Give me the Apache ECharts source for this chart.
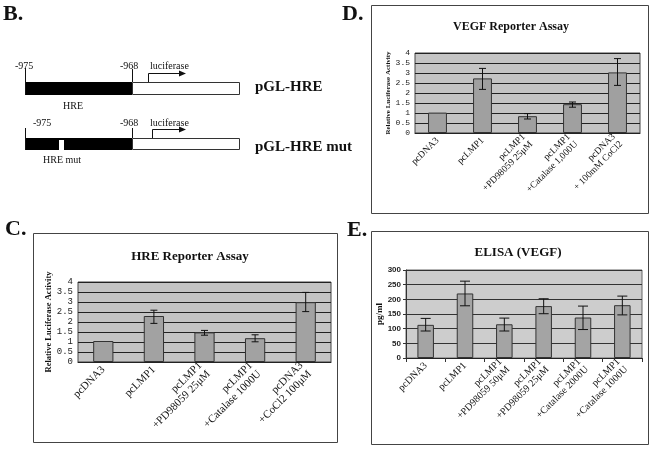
<!DOCTYPE html>
<html><head><meta charset="utf-8">
<script src="https://cdn.jsdelivr.net/npm/echarts@6/dist/echarts.min.js"></script>
<style>html,body{margin:0;padding:0;background:#fff}#c{width:652px;height:450px}</style>
</head><body><div id="c"></div>
<script>
// Panel C: HRE Reporter Assay
const hreCategories = ['pcDNA3', 'pcLMP1', 'pcLMP1\n+PD98059 25μM', 'pcLMP1\n+Catalase 1000U', 'pcDNA3\n+CoCl2 100μM'];
const hreValues = [1.05, 2.3, 1.48, 1.19, 2.99];
const hreErrLow = [null, 1.93, 1.34, 1.01, 2.52];
const hreErrHigh = [null, 2.59, 1.58, 1.36, 3.48];

// Panel D: VEGF Reporter Assay
const vegfCategories = ['pcDNA3', 'pcLMP1', 'pcLMP1\n+PD98059 25μM', 'pcLMP1\n+Catalase 1,000U', 'pcDNA3\n+ 100mM CoCl2'];
const vegfValues = [1.02, 2.73, 0.84, 1.44, 3.03];
const vegfErrLow = [null, 2.18, 0.7, 1.29, 2.38];
const vegfErrHigh = [null, 3.23, 0.97, 1.55, 3.72];

// Panel E: ELISA (VEGF)
const elisaCategories = ['pcDNA3', 'pcLMP1', 'pcLMP1\n+PD98059 50μM', 'pcLMP1\n+PD98059 25μM', 'pcLMP1\n+Catalase 2000U', 'pcLMP1\n+Catalase 1000U'];
const elisaValues = [113, 220, 115, 177, 138, 180];
const elisaErrLow = [92, 178, 92, 151, 97, 147];
const elisaErrHigh = [135, 262, 136, 202, 177, 211];

const reporterTicks = { min: 0, max: 4, interval: 0.5 };
const elisaTicks = { min: 0, max: 300, interval: 50 };

const SERIF = '"Liberation Serif", "DejaVu Serif", serif';
const MONO = '"Liberation Mono", "DejaVu Sans Mono", monospace';
const SANS = '"Liberation Sans", Arial, sans-serif';

function errData(low, high) {
  const out = [];
  for (let i = 0; i < low.length; i++) {
    if (low[i] != null && high[i] != null) out.push([i, low[i], high[i]]);
  }
  return out;
}

function errSeries(idx, low, high, cap) {
  return {
    type: 'custom', xAxisIndex: idx, yAxisIndex: idx, z: 5,
    data: errData(low, high),
    renderItem: function (params, api) {
      const lo = api.coord([api.value(0), api.value(1)]);
      const hi = api.coord([api.value(0), api.value(2)]);
      const st = { stroke: '#111', lineWidth: 1 };
      return {
        type: 'group', children: [
          { type: 'line', shape: { x1: lo[0], y1: lo[1], x2: hi[0], y2: hi[1] }, style: st },
          { type: 'line', shape: { x1: lo[0] - cap, y1: lo[1], x2: lo[0] + cap, y2: lo[1] }, style: st },
          { type: 'line', shape: { x1: hi[0] - cap, y1: hi[1], x2: hi[0] + cap, y2: hi[1] }, style: st }
        ]
      };
    }
  };
}

function xAxisFor(idx, cats, fontSize, showTicks) {
  return {
    type: 'category', gridIndex: idx, data: cats,
    axisLine: { show: true, lineStyle: { color: '#222', width: 1 } },
    axisTick: { show: showTicks, alignWithLabel: false, length: 4, lineStyle: { color: '#333' } },
    axisLabel: {
      rotate: 45, interval: 0, margin: 6, color: '#111',
      fontFamily: SERIF, fontSize: fontSize, lineHeight: fontSize + 1
    },
    splitLine: { show: false }
  };
}

function yAxisFor(idx, ticks, name, nameSize, nameGap, labelFont, labelSize, labelWeight, showTicks, gridColor) {
  return {
    type: 'value', gridIndex: idx, min: ticks.min, max: ticks.max, interval: ticks.interval,
    name: name, nameLocation: 'middle', nameRotate: 90, nameGap: nameGap,
    nameTextStyle: { fontFamily: SERIF, fontWeight: 'bold', fontSize: nameSize, color: '#111' },
    axisLine: { show: showTicks, lineStyle: { color: '#333' } },
    axisTick: { show: showTicks, length: 3, lineStyle: { color: '#333' } },
    axisLabel: { fontFamily: labelFont, fontSize: labelSize, fontWeight: labelWeight, color: '#222', margin: 5 },
    splitLine: { show: true, lineStyle: { color: gridColor, width: 1 } }
  };
}

function barSeries(idx, values, color, width) {
  return {
    type: 'bar', xAxisIndex: idx, yAxisIndex: idx, data: values, barWidth: width,
    itemStyle: { color: color, borderColor: '#333', borderWidth: 1 },
    z: 3
  };
}

function gText(x, y, text, size, bold) {
  return {
    type: 'text', x: x, y: y, z: 20,
    style: { text: text, fontFamily: SERIF, fontSize: size, fontWeight: bold ? 'bold' : 'normal', fill: '#111', textAlign: 'left', textVerticalAlign: 'middle' }
  };
}
function gLine(x1, y1, x2, y2, w) {
  return { type: 'line', z: 20, shape: { x1: x1, y1: y1, x2: x2, y2: y2 }, style: { stroke: '#111', lineWidth: w || 1 } };
}
function gRect(x, y, w, h, fill, stroke) {
  return { type: 'rect', z: 19, shape: { x: x, y: y, width: w, height: h }, style: { fill: fill, stroke: stroke || null, lineWidth: 1 } };
}

const graphics = [
  // panel frames
  gRect(33.5, 233.5, 304, 209, 'none', '#444'),
  gRect(371.5, 5.5, 277, 208, 'none', '#444'),
  gRect(371.5, 231.5, 277, 213, 'none', '#444'),
  // panel letters
  gText(3, 14, 'B.', 22, true),
  gText(5, 229, 'C.', 22, true),
  gText(342, 14, 'D.', 22, true),
  gText(347, 230, 'E.', 22, true),
  // construct 1
  gText(15, 66, '-975', 10),
  gLine(25.5, 68, 25.5, 95),
  gRect(25, 82, 107, 13, '#000'),
  gRect(132.5, 82.5, 107, 12, '#fff', '#333'),
  gLine(132.5, 69, 132.5, 82),
  gText(120, 66, '-968', 10),
  gText(150, 66, 'luciferase', 10),
  gLine(148.5, 82, 148.5, 73.5),
  gLine(148.5, 73.5, 182, 73.5),
  { type: 'polygon', z: 20, shape: { points: [[179, 70.5], [186, 73.5], [179, 76.5]] }, style: { fill: '#111' } },
  gText(255, 87, 'pGL-HRE', 15, true),
  gText(63, 106, 'HRE', 10),
  // construct 2
  gText(33, 123, '-975', 10),
  gLine(25.5, 128, 25.5, 150),
  gRect(25, 138, 107, 12, '#000'),
  gRect(59, 140, 5, 10, '#fff'),
  gRect(132.5, 138.5, 107, 11, '#fff', '#333'),
  gLine(132.5, 128, 132.5, 138),
  gText(120, 123, '-968', 10),
  gText(150, 123, 'luciferase', 10),
  gLine(152.5, 138, 152.5, 129.5),
  gLine(152.5, 129.5, 182, 129.5),
  { type: 'polygon', z: 20, shape: { points: [[179, 126.5], [186, 129.5], [179, 132.5]] }, style: { fill: '#111' } },
  gText(255, 147, 'pGL-HRE mut', 15, true),
  gText(43, 160, 'HRE mut', 10)
];

const chart = echarts.init(document.getElementById('c'), null, { renderer: 'canvas' });
chart.setOption({
  animation: false,
  backgroundColor: '#fff',
  title: [
    { text: 'HRE Reporter Assay', left: 185, top: 245, textAlign: 'center', textStyle: { fontFamily: SERIF, fontWeight: 'bold', fontSize: 13, color: '#111' } },
    { text: 'VEGF Reporter Assay', left: 506, top: 16, textAlign: 'center', textStyle: { fontFamily: SERIF, fontWeight: 'bold', fontSize: 12, color: '#111' } },
    { text: 'ELISA (VEGF)', left: 513, top: 241, textAlign: 'center', textStyle: { fontFamily: SERIF, fontWeight: 'bold', fontSize: 13, color: '#111' } }
  ],
  grid: [
    { left: 78, right: 321, top: 282, bottom: 88, show: true, backgroundColor: '#c4c4c4', borderColor: '#444', borderWidth: 1, containLabel: false, outerBoundsMode: 'none' },
    { left: 415, right: 12, top: 53, bottom: 317, show: true, backgroundColor: '#c4c4c4', borderColor: '#444', borderWidth: 1, containLabel: false, outerBoundsMode: 'none' },
    { left: 406, right: 10, top: 270, bottom: 92, show: true, backgroundColor: '#cdcdcd', borderColor: '#666', borderWidth: 1, containLabel: false, outerBoundsMode: 'none' }
  ],
  xAxis: [
    xAxisFor(0, hreCategories, 11, false),
    xAxisFor(1, vegfCategories, 9.5, false),
    xAxisFor(2, elisaCategories, 10, true)
  ],
  yAxis: [
    yAxisFor(0, reporterTicks, 'Relative Luciferase Activity', 8.5, 22, MONO, 9, 'normal', false, '#222'),
    yAxisFor(1, reporterTicks, 'Relative Luciferase Activity', 7, 21, MONO, 8, 'normal', false, '#222'),
    yAxisFor(2, elisaTicks, 'pg/ml', 9, 17, SANS, 8, 'bold', true, '#333')
  ],
  series: [
    barSeries(0, hreValues, '#a2a2a2', '40%'),
    errSeries(0, hreErrLow, hreErrHigh, 3.5),
    barSeries(1, vegfValues, '#a0a0a0', '42%'),
    errSeries(1, vegfErrLow, vegfErrHigh, 3.5),
    barSeries(2, elisaValues, '#a4a4a4', '42%'),
    errSeries(2, elisaErrLow, elisaErrHigh, 5)
  ],
  graphic: graphics
});
</script>
</body></html>
